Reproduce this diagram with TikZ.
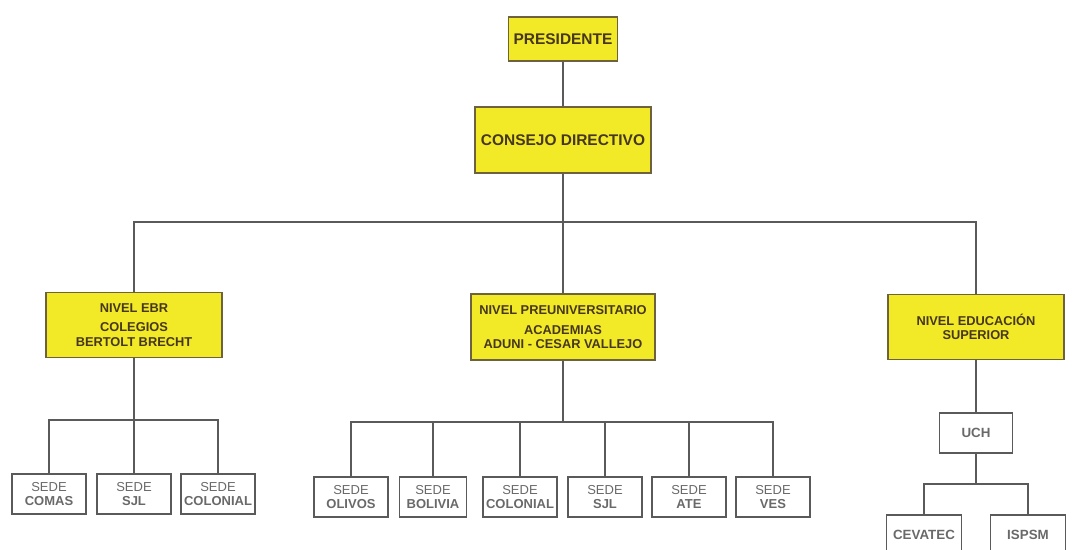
\documentclass[tikz,border=0pt]{standalone}
\usepackage{fontspec}
\setmainfont{Liberation Sans}
\usetikzlibrary{positioning}
\definecolor{amarillo}{RGB}{242,234,38}
\definecolor{borde}{RGB}{110,98,62}
\definecolor{letra}{RGB}{70,55,30}
\definecolor{linea}{RGB}{90,90,90}
\definecolor{gris}{RGB}{105,105,105}

\begin{document}
\begin{tikzpicture}
[x=0.02cm,y=-0.02cm,line width=0.8pt,draw=linea,
jefe/.style={shape=rectangle,draw=borde,fill=amarillo,line width=1.1pt,text=letra,
	font=\fontsize{8.8}{10}\selectfont\bfseries,inner sep=1pt},
nivel/.style={jefe,font=\fontsize{7.3}{8.2}\selectfont\bfseries,align=center,
	minimum width=3.52cm,minimum height=1.3cm},
sede/.style={shape=rectangle,draw=linea,line width=0.8pt,text=gris,
	font=\fontsize{7.4}{8.4}\selectfont,align=center,inner sep=1pt,
	minimum width=1.48cm,minimum height=0.8cm}]

\useasboundingbox (0,0) rectangle (1073,549);

\node[jefe,minimum width=2.18cm,minimum height=0.88cm] (pres) at (563,39) {PRESIDENTE};
\node[jefe,minimum width=3.52cm,minimum height=1.32cm] (cd) at (563,140) {CONSEJO DIRECTIVO};

\node[nivel] (ebr) at (134,325) {NIVEL EBR\\[3pt]COLEGIOS\\BERTOLT BRECHT};
\node[nivel,minimum width=3.68cm,minimum height=1.32cm] (preu) at (563,327)
	{NIVEL PREUNIVERSITARIO\\[3pt]ACADEMIAS\\ADUNI - CESAR VALLEJO};
\node[nivel] (sup) at (976,327) {NIVEL EDUCACI\'ON\\SUPERIOR};

% sedes colegios
\node[sede] (e1) at (49,494) {SEDE\\\textbf{COMAS}};
\node[sede] (e2) at (134,494) {SEDE\\\textbf{SJL}};
\node[sede] (e3) at (218,494) {SEDE\\\textbf{COLONIAL}};

% sedes academias
\node[sede] (p1) at (351,497) {SEDE\\\textbf{OLIVOS}};
\node[sede,minimum width=1.34cm] (p2) at (433,497) {SEDE\\\textbf{BOLIVIA}};
\node[sede] (p3) at (520,497) {SEDE\\\textbf{COLONIAL}};
\node[sede] (p4) at (605,497) {SEDE\\\textbf{SJL}};
\node[sede] (p5) at (689,497) {SEDE\\\textbf{ATE}};
\node[sede] (p6) at (773,497) {SEDE\\\textbf{VES}};

% superior
\node[sede,minimum width=1.46cm,font=\fontsize{7.6}{9}\selectfont\bfseries] (uch) at (976,433) {UCH};
\node[sede,minimum width=1.5cm,font=\fontsize{7.6}{9}\selectfont\bfseries] (s1) at (924,535) {CEVATEC};
\node[sede,minimum width=1.5cm,font=\fontsize{7.6}{9}\selectfont\bfseries] (s2) at (1028,535) {ISPSM};

\coordinate (b0) at (cd |- 0,222);
\coordinate (b1) at (ebr |- 0,420);
\coordinate (b2) at (preu |- 0,422);
\coordinate (b3) at (uch |- 0,484);

\path[draw=linea,line width=0.8pt]
\foreach \startNode/\endNode in {pres/cd,cd/b0,ebr/b1,preu/b2,sup/uch,uch/b3}{
	(\startNode) edge (\endNode)
};
\foreach \busNode/\hijo in {b0/ebr,b0/preu,b0/sup,b1/e1,b1/e2,b1/e3,
	b2/p1,b2/p2,b2/p3,b2/p4,b2/p5,b2/p6,b3/s1,b3/s2}
	\draw (\busNode) -| (\hijo);
\end{tikzpicture}
\end{document}
